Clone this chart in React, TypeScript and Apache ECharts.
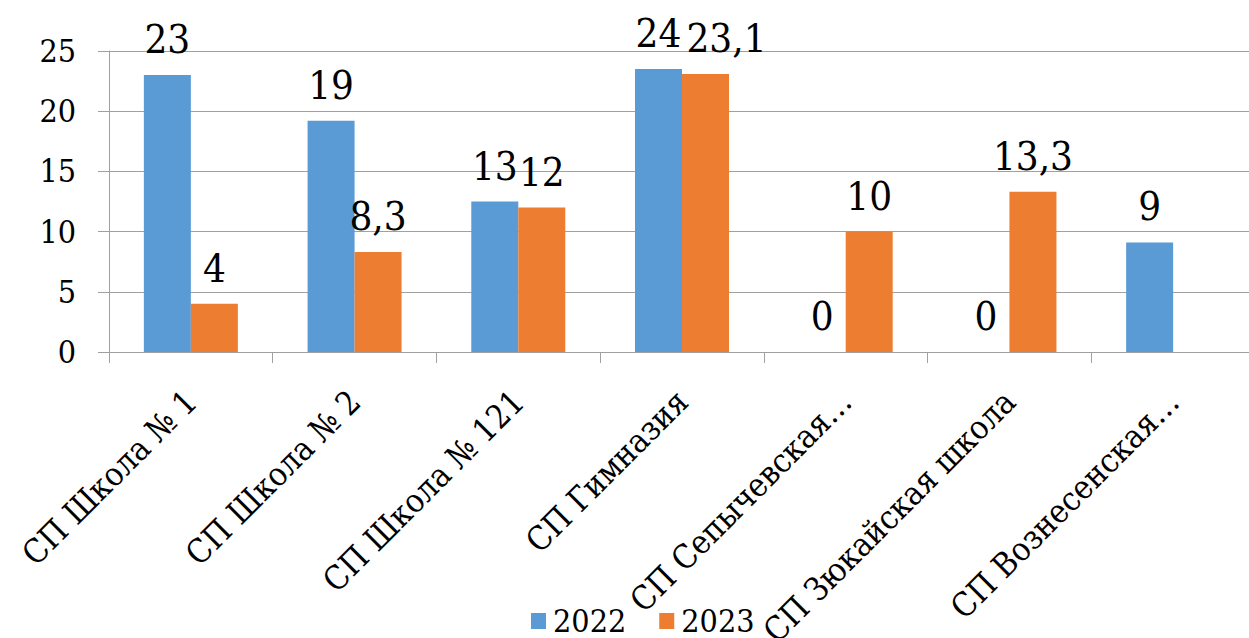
import React, { useEffect, useRef } from "react";
import * as echarts from "echarts";

const categories = [
  "СП Школа № 1",
  "СП Школа № 2",
  "СП Школа № 121",
  "СП Гимназия",
  "СП Сепычевская…",
  "СП Зюкайская школа",
  "СП Вознесенская…",
];
const seriesNames = ["2022", "2023"];
const values2022 = [23, 19.2, 12.5, 23.5, 0, 0, 9.1];
const values2023: (number | null)[] = [4, 8.3, 12, 23.1, 10, 13.3, null];
const yTicks = { min: 0, max: 25, interval: 5 };

const FONT = "DejaVu Serif Condensed";
const GRAY = "#a0a0a0";

export default function App() {
  const ref = useRef<HTMLDivElement>(null);
  useEffect(() => {
    document.body.style.margin = "0";
    const chart = echarts.init(ref.current!, null, { renderer: "svg" });
    const fmt = (v: number) => String(v).replace(".", ",");
    const txt = (size: number) => ({ fontFamily: FONT, fontSize: size, color: "#000" });
    chart.setOption({
      animation: false,
      backgroundColor: "#ffffff",
      grid: { left: 109, top: 51, width: 1146, height: 301, containLabel: false, outerBoundsMode: "none" },
      legend: {
        left: 526,
        top: 600,
        icon: "rect",
        itemWidth: 15,
        itemHeight: 16,
        itemGap: 33,
        textStyle: { ...txt(32), padding: [0, 0, 0, 2] },
        data: seriesNames,
      },
      xAxis: {
        type: "category",
        data: categories,
        axisLine: { lineStyle: { color: GRAY, width: 1 } },
        axisTick: { show: true, length: 11, lineStyle: { color: GRAY } },
        axisLabel: {
          interval: 0,
          rotate: 45,
          margin: 44,
          ...txt(33),
        },
      },
      yAxis: {
        type: "value",
        min: yTicks.min,
        max: yTicks.max,
        interval: yTicks.interval,
        axisLine: { show: true, lineStyle: { color: GRAY, width: 1 } },
        axisTick: { show: true, length: 11, lineStyle: { color: GRAY } },
        splitLine: { show: true, lineStyle: { color: GRAY, width: 1 } },
        axisLabel: { margin: 33, ...txt(32) },
      },
      series: [
        {
          name: seriesNames[0],
          type: "bar",
          data: values2022,
          barWidth: 47,
          barGap: "0%",
          itemStyle: { color: "#5B9BD5" },
          label: {
            show: true,
            position: "top",
            distance: 16,
            ...txt(40),
            formatter: (p: any) => String(Math.round(p.value)),
          },
        },
        {
          name: seriesNames[1],
          type: "bar",
          data: values2023.map((v, i) =>
            i === 3 ? { value: v, label: { offset: [21, 0] } } : v
          ),
          barWidth: 47,
          barGap: "0%",
          itemStyle: { color: "#ED7D31" },
          label: {
            show: true,
            position: "top",
            distance: 16,
            ...txt(40),
            formatter: (p: any) => (p.value == null ? "" : fmt(p.value)),
          },
        },
      ],
    });
    return () => chart.dispose();
  }, []);
  return (
    <div
      ref={ref}
      style={{ position: "absolute", left: 0, top: 0, width: 1249, height: 638 }}
    />
  );
}
